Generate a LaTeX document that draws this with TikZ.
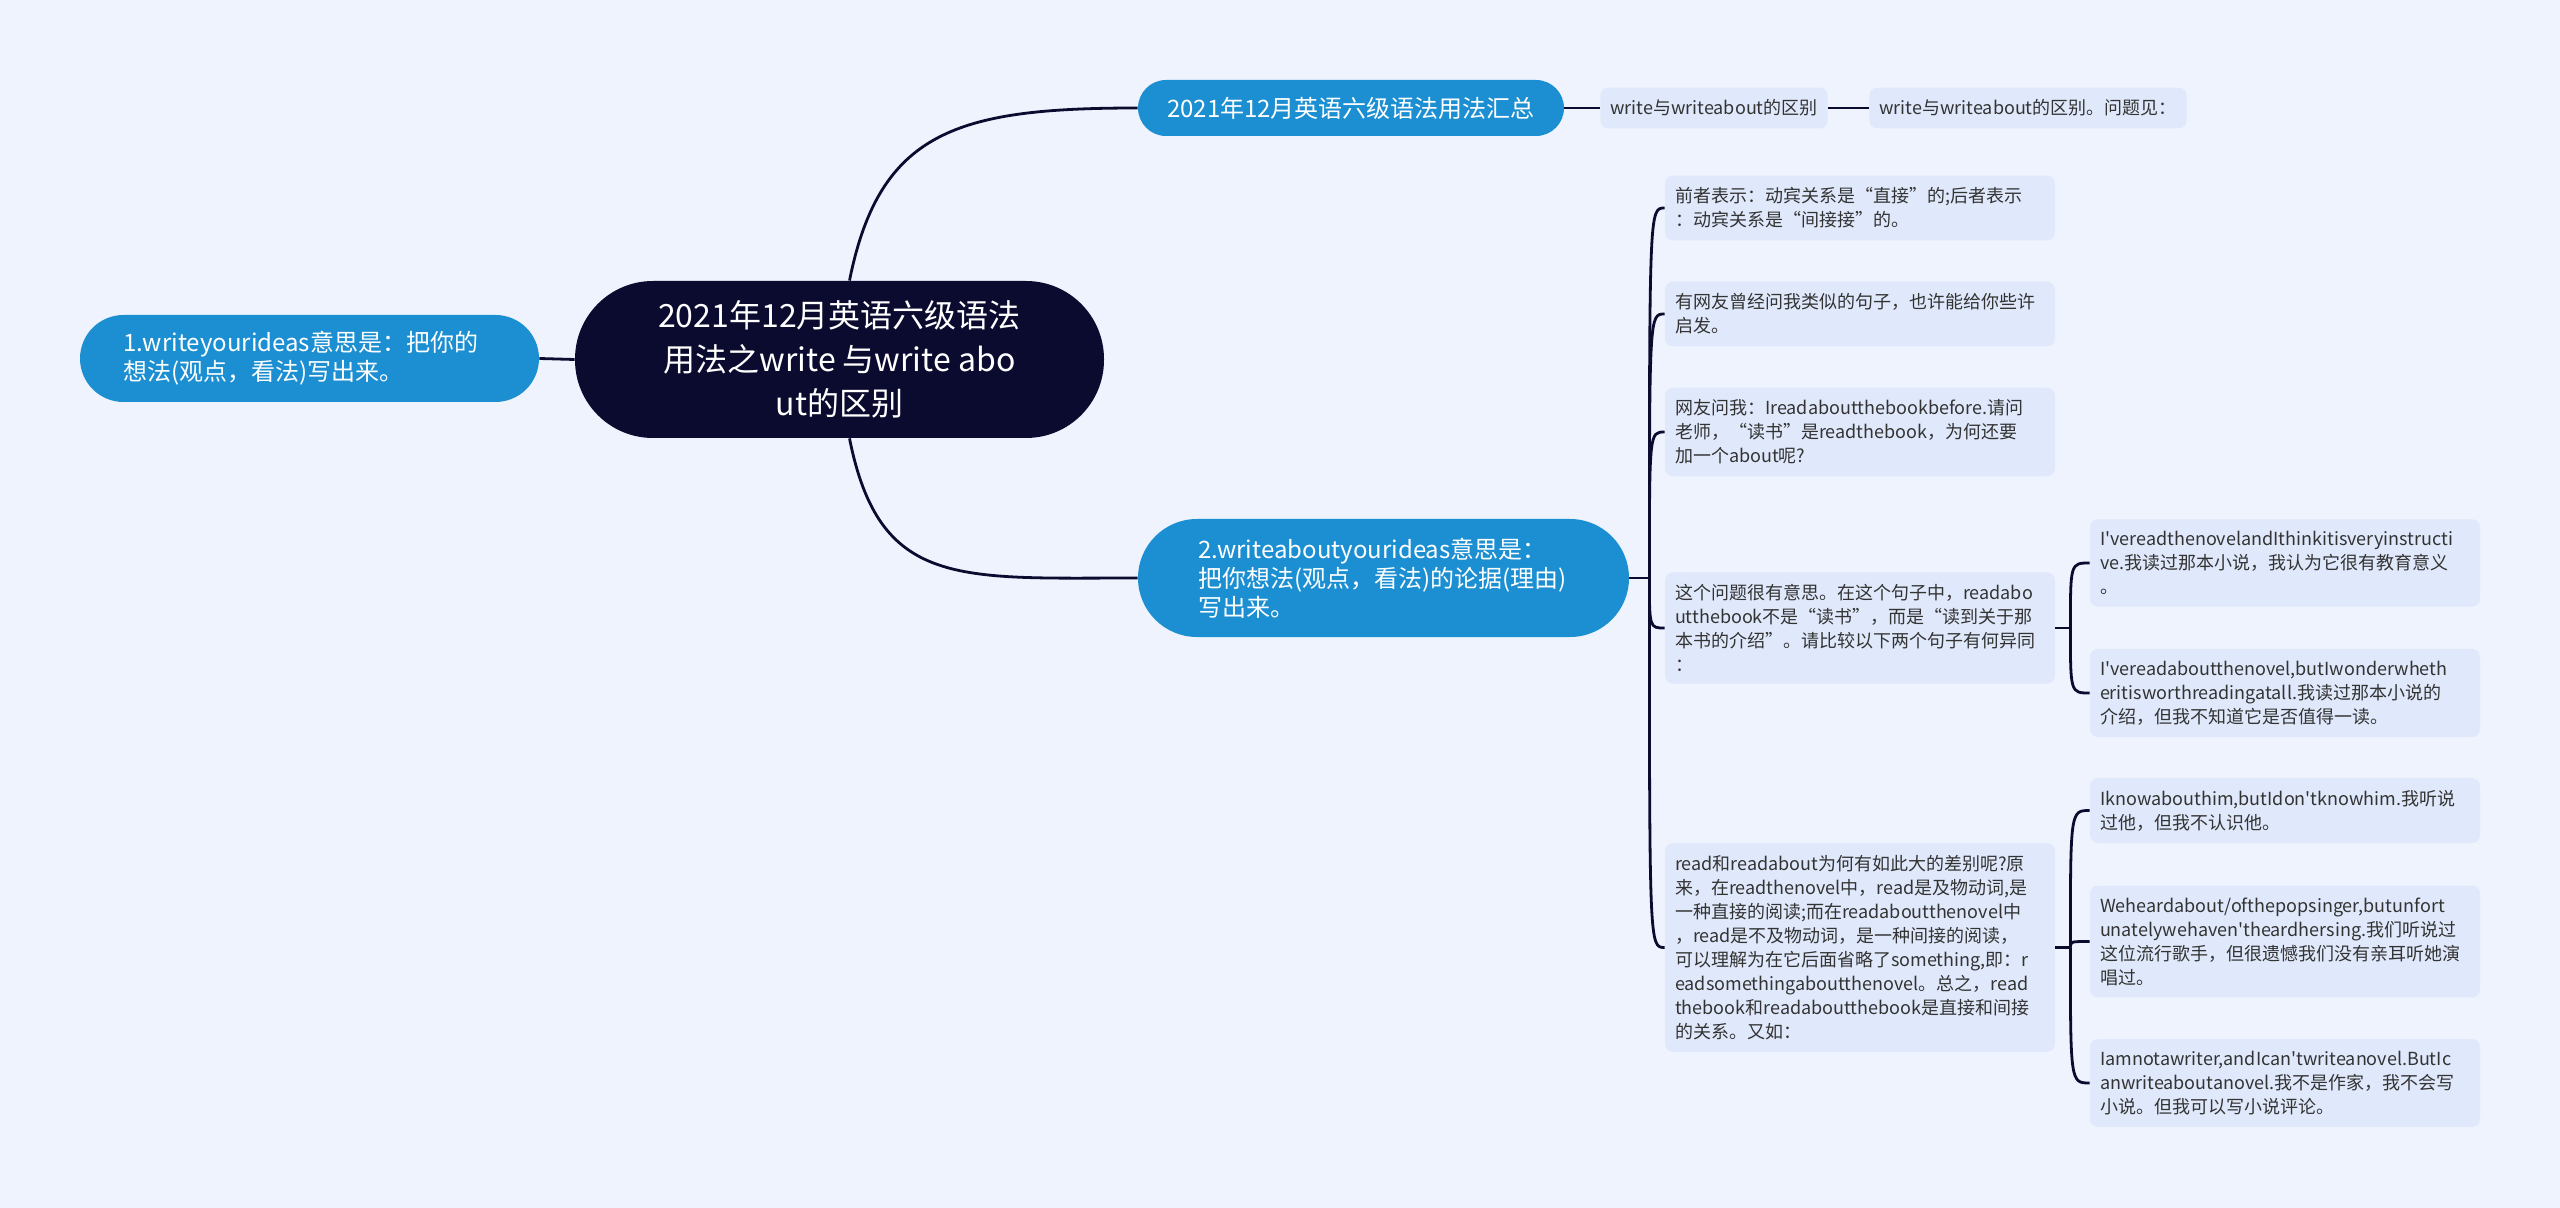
\documentclass[tikz,border=0pt]{standalone}
\usepackage{fontspec}
\newfontfamily\cjk{Noto Sans CJK SC}
\definecolor{pagebg}{HTML}{EEF3FD}
\definecolor{rootnavy}{HTML}{0B0A2F}
\definecolor{branchblue}{HTML}{1B8FD1}
\definecolor{leafblue}{HTML}{E0E9FB}
\definecolor{leaftext}{HTML}{333333}

\begin{document}
\begin{tikzpicture}[x=0.5pt, y=-0.5pt,
    pill/.style={fill=branchblue, text=white, inner sep=0pt, font=\cjk\fontsize{12}{14.5}\selectfont},
    leaf/.style={fill=leafblue, text=leaftext, rounded corners=4pt, inner xsep=5pt, inner ysep=6pt, align=left, font=\cjk\fontsize{9}{12}\selectfont},
    wideleaf/.style={leaf, text width=185pt},
    link/.style={draw=rootnavy, line width=1.4pt}]
        % Page
        \fill[pagebg] (0,0) rectangle (2560,1208);
        \useasboundingbox (0,0) rectangle (2560,1208);

        % Centre topic
        \node[fill=rootnavy, text=white, minimum width=264.5pt, minimum height=78.5pt, rounded corners=39pt, align=center, font=\cjk\fontsize{16}{22}\selectfont] (root) at (839.5,359.5)
            {2021年12月英语六级语法\\用法之write 与write abo\\ut的区别};

        % Main branches
        \node[pill, minimum width=229.5pt, minimum height=43.5pt, rounded corners=21.75pt, text width=186pt, align=left] (writeideas) at (309.5,358.5)
            {1.writeyourideas意思是：把你的\\想法(观点，看法)写出来。};
        \node[pill, minimum width=213pt, minimum height=28pt, rounded corners=14pt, align=center] (summary) at (1351,108)
            {2021年12月英语六级语法用法汇总};
        \node[pill, minimum width=245.5pt, minimum height=59pt, rounded corners=29.5pt, text width=185.5pt, align=left] (writeabout) at (1383.5,578)
            {2.writeaboutyourideas意思是：\\把你想法(观点，看法)的论据(理由)\\写出来。};

        % Summary chain
        \node[leaf, anchor=west] (diffa) at (1600,108) {write与writeabout的区别};
        \node[leaf, anchor=west] (diffb) at (1869,108) {write与writeabout的区别。问题见：};

        % Notes on write about
        \node[wideleaf] (directnote) at (1860,208)
            {前者表示：动宾关系是“直接”的;后者表示\\：动宾关系是“间接接”的。};
        \node[wideleaf] (netfriend) at (1860,314)
            {有网友曾经问我类似的句子，也许能给你些许\\启发。};
        \node[wideleaf] (question) at (1860,432)
            {网友问我：Ireadaboutthebookbefore.请问\\老师，“读书”是readthebook，为何还要\\加一个about呢?};
        \node[wideleaf] (interesting) at (1860,628)
            {这个问题很有意思。在这个句子中，readabo\\utthebook不是“读书”，而是“读到关于那\\本书的介绍”。请比较以下两个句子有何异同\\：};
        \node[wideleaf] (whydiff) at (1860,947.5)
            {read和readabout为何有如此大的差别呢?原\\来，在readthenovel中，read是及物动词,是\\一种直接的阅读;而在readaboutthenovel中\\，read是不及物动词，是一种间接的阅读，\\可以理解为在它后面省略了something,即：r\\eadsomethingaboutthenovel。总之，read\\thebook和readaboutthebook是直接和间接\\的关系。又如：};

        % Example sentences
        \node[wideleaf] (novelread) at (2285,563)
            {I'vereadthenovelandIthinkitisveryinstructi\\ve.我读过那本小说，我认为它很有教育意义\\。};
        \node[wideleaf] (novelabout) at (2285,693)
            {I'vereadaboutthenovel,butIwonderwheth\\eritisworthreadingatall.我读过那本小说的\\介绍，但我不知道它是否值得一读。};
        \node[wideleaf] (knowhim) at (2285,810.5)
            {Iknowabouthim,butIdon'tknowhim.我听说\\过他，但我不认识他。};
        \node[wideleaf] (popsinger) at (2285,941.5)
            {Weheardabout/ofthepopsinger,butunfort\\unatelywehaven'theardhersing.我们听说过\\这位流行歌手，但很遗憾我们没有亲耳听她演\\唱过。};
        \node[wideleaf] (notwriter) at (2285,1083)
            {Iamnotawriter,andIcan'twriteanovel.ButIc\\anwriteaboutanovel.我不是作家，我不会写\\小说。但我可以写小说评论。};

        % Connectors from the centre
        \draw[link] (writeideas.east) -- (root.west);
        \draw[link] ([xshift=5pt]root.north) .. controls +(30,-150) and +(-180,0) .. (summary.west);
        \draw[link] ([xshift=5pt]root.south) .. controls +(30,150) and +(-180,0) .. (writeabout.west);
        \draw[link] (summary.east) -- (diffa.west);
        \draw[link] (diffa.east) -- (diffb.west);

        % Bracket to the notes
        \coordinate (fork) at ([xshift=10pt]writeabout.east);
        \draw[link] (writeabout.east) -- (fork);
        \draw[link] (fork) .. controls (fork |- directnote.west) .. (directnote.west);
        \draw[link] (fork) .. controls (fork |- netfriend.west) .. (netfriend.west);
        \draw[link] (fork) .. controls (fork |- question.west) .. (question.west);
        \draw[link] (fork) .. controls (fork |- interesting.west) .. (interesting.west);
        \draw[link] (fork) .. controls (fork |- whydiff.west) .. (whydiff.west);

        % Brackets to the examples
        \coordinate (forkb) at ([xshift=7.5pt]interesting.east);
        \draw[link] (interesting.east) -- (forkb);
        \draw[link] (forkb) .. controls (forkb |- novelread.west) .. (novelread.west);
        \draw[link] (forkb) .. controls (forkb |- novelabout.west) .. (novelabout.west);
        \coordinate (forkc) at ([xshift=7.5pt]whydiff.east);
        \draw[link] (whydiff.east) -- (forkc);
        \draw[link] (forkc) .. controls (forkc |- knowhim.west) .. (knowhim.west);
        \draw[link] (forkc) .. controls (forkc |- popsinger.west) .. (popsinger.west);
        \draw[link] (forkc) .. controls (forkc |- notwriter.west) .. (notwriter.west);
      \end{tikzpicture}
\end{document}
